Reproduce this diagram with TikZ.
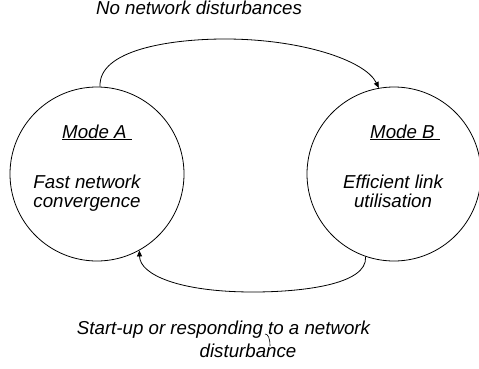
\documentclass[tikz,border=0pt]{standalone}
\usepackage{fontspec}
\setmainfont{Liberation Sans}
\usetikzlibrary{arrows.meta}
\begin{document}
\begin{tikzpicture}[x=1pt,y=-1pt,
  state/.style={circle,draw,line width=0.8pt,minimum size=174pt,inner sep=0pt},
  lbl/.style={font=\fontsize{18.7}{19}\selectfont\itshape,inner sep=0pt,align=center},
  conn/.style={line width=0.8pt,-{Triangle[length=6pt,width=5pt]}}]
\useasboundingbox (0,0) rectangle (479,369);
\node[state] (A) at (97,174) {};
\node[state] (B) at (394,174) {};
\node[lbl,anchor=base] (ma) at (97,138) {\underline{Mode A\ }};
\node[lbl,anchor=base] (mb) at (405,138) {\underline{Mode B\ }};
\node[lbl,anchor=base] (ta) at (87,207) {Fast network\\convergence};
\node[lbl,anchor=base] (tb) at (393,207) {Efficient link\\utilisation};
\node[lbl,anchor=base] (top) at (199,15) {No network disturbances};
\node[lbl,anchor=base] (bot1) at (223.5,334) {Start-up or responding to a network};
\node[lbl,anchor=base] (bot2) at (248,357) {disturbance};
\draw[conn] (A.88) .. controls (98,50) and (170,39) .. (225,39)
  .. controls (300,39) and (365,60) .. (B.100);
\draw[conn] (B.-109) .. controls (368,285) and (300,292) .. (253,292)
  .. controls (180,292) and (140,275) .. (A.-61);
\coordinate (h1) at (265,334);
\coordinate (h2) at (270,346);
\draw[line width=0.6pt] (h1) .. controls (268,334) and (270,338) .. (h2);
\end{tikzpicture}
\end{document}
